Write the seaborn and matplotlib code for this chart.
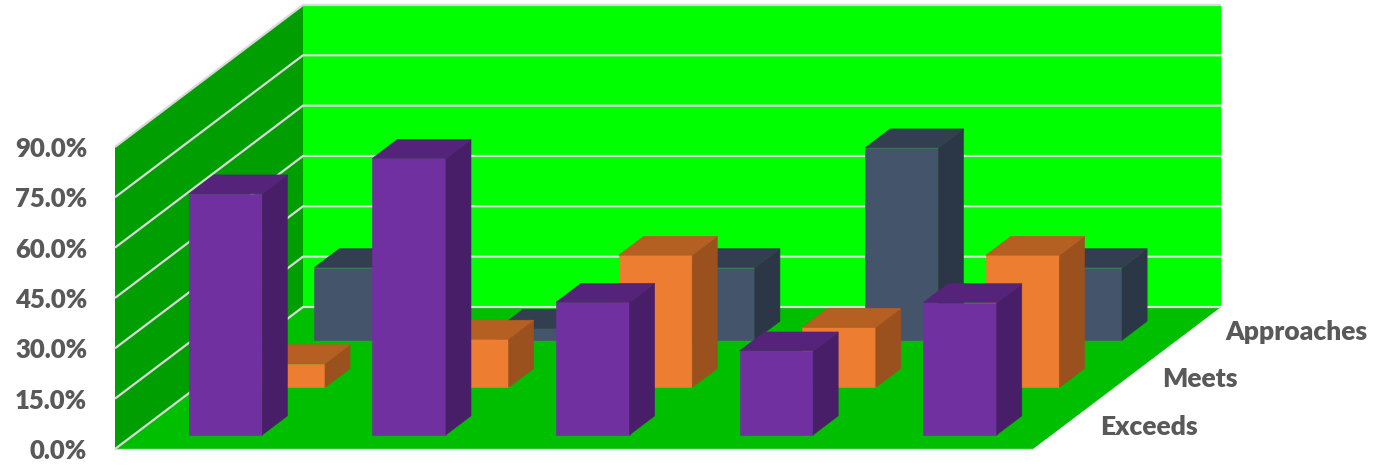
import matplotlib
matplotlib.use("Agg")
import matplotlib.pyplot as plt
from matplotlib.patches import Polygon
from matplotlib.ticker import FuncFormatter
import seaborn as sns

# Data: three performance bands across five groups (percent)
series = ["Exceeds", "Meets", "Approaches"]
exceeds = [71.8, 82.4, 39.5, 25.0, 39.4]
meets = [7.1, 14.4, 39.4, 17.9, 39.4]
approaches = [21.6, 3.5, 21.6, 57.3, 21.6]
y_ticks = [0, 15, 30, 45, 60, 75, 90]

values = {"Exceeds": exceeds, "Meets": meets, "Approaches": approaches}

# front / top / side shades for each series
shades = {
    "Exceeds": ("#7030A0", "#55247A", "#491E69"),
    "Meets": ("#ED7D31", "#B65F22", "#9B511E"),
    "Approaches": ("#44546A", "#333F50", "#2B3746"),
}

sns.set_theme(style="white")
plt.rcParams["font.family"] = ["Lato", "DejaVu Sans"]

W, H = 1389, 466
fig = plt.figure(figsize=(W / 100, H / 100), dpi=100)
ax = fig.add_axes([0, 0, 1, 1])

# Oblique projection: one full floor depth shifts right by DX categories, up by DY percent
X0_PX, UNIT_PX = 115, 183.6
Y0_PX, PCT_PX = 17, 3.356
DX, DY = 188 / UNIT_PX, 142 / PCT_PX
n = len(exceeds)
YMAX = y_ticks[-1]

ax.set_xlim(-X0_PX / UNIT_PX, (W - X0_PX) / UNIT_PX)
ax.set_ylim(-Y0_PX / PCT_PX, (H - Y0_PX) / PCT_PX)

# Walls and floor
ax.add_patch(Polygon([(DX, DY), (n + DX, DY), (n + DX, YMAX + DY), (DX, YMAX + DY)],
                     closed=True, facecolor="#00FF00", edgecolor="none", zorder=0))
ax.add_patch(Polygon([(0, 0), (DX, DY), (DX, YMAX + DY), (0, YMAX)],
                     closed=True, facecolor="#009E00", edgecolor="none", zorder=0))
ax.add_patch(Polygon([(0, 0), (n, 0), (n + DX, DY), (DX, DY)],
                     closed=True, facecolor="#00BE00", edgecolor="none", zorder=0))

# Gridlines across the side wall and back wall
for t in y_ticks:
    ax.plot([0, DX, n + DX], [t, t + DY, t + DY], color="#D9D9D9", lw=1.6,
            solid_capstyle="butt", zorder=1)

bar_w = 0.4
bar_d = 0.4 / len(series)
for k in reversed(range(len(series))):
    name = series[k]
    vals = values[name]
    front, top, side = shades[name]
    dc = (k + 0.5) / len(series)
    df = dc - bar_d / 2
    base = df * DY
    xpos = [i + 0.5 + df * DX for i in range(n)]
    z = 10 + 3 * (len(series) - k)
    sns.barplot(x=xpos, y=vals, native_scale=True, orient="x", width=bar_w,
                color=front, saturation=1, errorbar=None, bottom=base,
                edgecolor=front, linewidth=0.4, zorder=z, ax=ax)
    for xc, v in zip(xpos, vals):
        xl, xr = xc - bar_w / 2, xc + bar_w / 2
        yb, yt = base, base + v
        sx, sy = bar_d * DX, bar_d * DY
        ax.add_patch(Polygon([(xr, yb), (xr + sx, yb + sy), (xr + sx, yt + sy), (xr, yt)],
                             closed=True, facecolor=side, edgecolor=side, lw=0.4,
                             zorder=z + 1))
        ax.add_patch(Polygon([(xl, yt), (xr, yt), (xr + sx, yt + sy), (xl + sx, yt + sy)],
                             closed=True, facecolor=top, edgecolor=top, lw=0.4,
                             zorder=z + 1))
    ax.annotate(name, xy=(n + dc * DX, dc * DY), xytext=(25.5, -1),
                textcoords="offset points", ha="left", va="center",
                fontsize=19, fontweight="heavy", color="#595959", zorder=30)

ax.set_xlabel("")
ax.set_ylabel("")

# Value axis along the front edge of the side wall
ax.spines["left"].set_position(("data", 0))
ax.spines["left"].set_visible(False)
ax.set_yticks(y_ticks)
ax.yaxis.set_major_formatter(FuncFormatter(lambda v, _: f"{v:.1f}%"))
ax.tick_params(axis="y", length=0, pad=20, labelsize=18.5, labelcolor="#595959")
for lab in ax.get_yticklabels():
    lab.set_fontweight("heavy")

# Category axis along the front edge of the floor
ax.spines["bottom"].set_position(("data", 0))
ax.spines["bottom"].set_bounds(0, n)
ax.spines["bottom"].set_color("#D9D9D9")
ax.spines["bottom"].set_linewidth(1.0)
ax.spines["bottom"].set_zorder(2)
ax.set_xticks(range(n + 1))
ax.set_xticklabels([])
ax.tick_params(axis="x", direction="out", length=12, width=1.5, color="#D9D9D9")
ax.spines["top"].set_visible(False)
ax.spines["right"].set_visible(False)
ax.set_facecolor("white")

fig.savefig("out.png", dpi=100)
